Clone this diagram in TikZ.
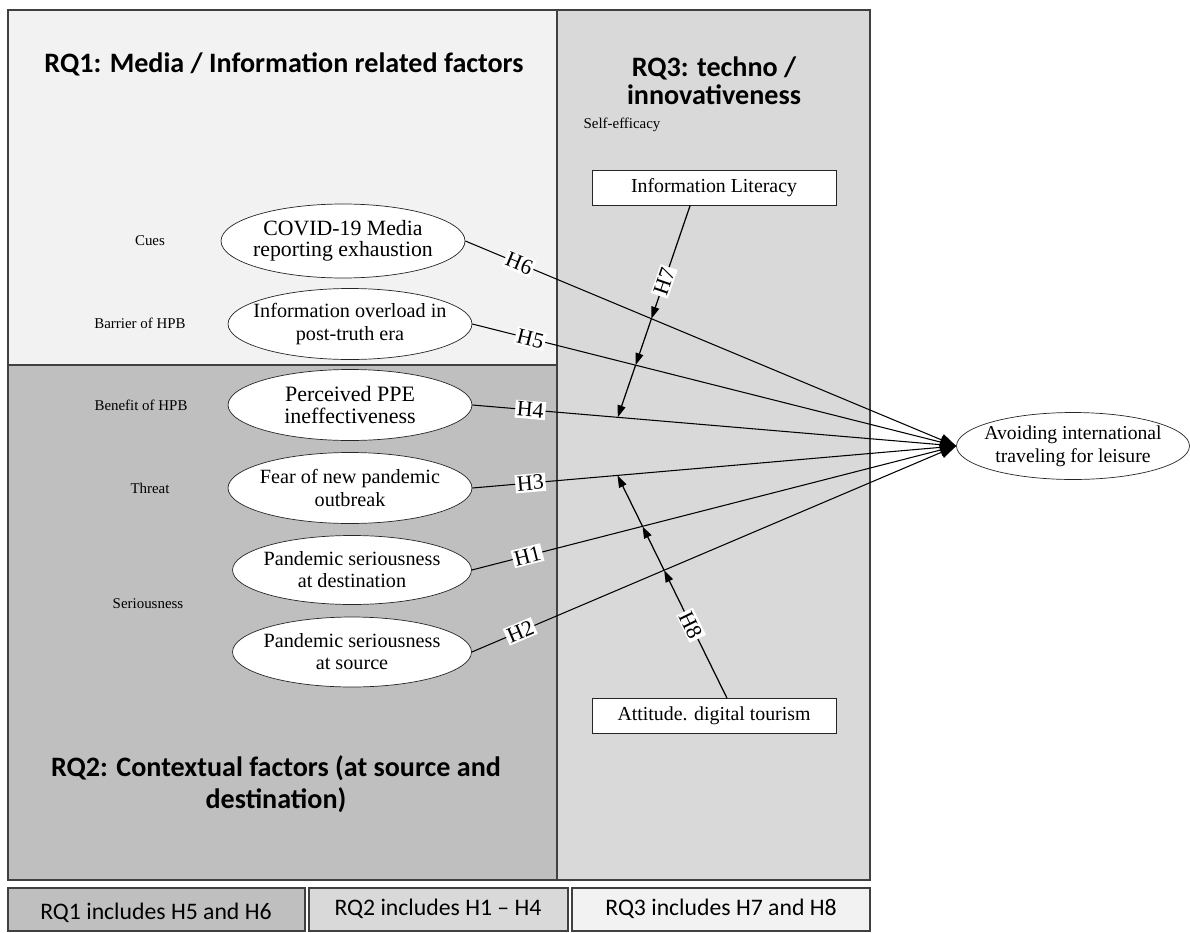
\documentclass[tikz,border=0pt]{standalone}
\usepackage{fontspec}
\setmainfont{Liberation Serif}
\newfontfamily\calfont{Carlito}
\definecolor{panelone}{HTML}{F2F2F2}
\definecolor{paneltwo}{HTML}{BFBFBF}
\definecolor{panelthree}{HTML}{D9D9D9}
\definecolor{frameline}{HTML}{404040}
\usetikzlibrary{arrows.meta,positioning,shapes.geometric,intersections}

\begin{document}
\begin{tikzpicture}[x=0.02cm, y=-0.02cm,
  panel/.style={draw=frameline, line width=0.9pt},
  factor/.style={ellipse, draw=black!85, fill=white, minimum width=4.88cm,
    minimum height=1.42cm, inner xsep=-0.3cm, inner ysep=0pt, align=center,
    font=\fontsize{11.5}{12.6}\selectfont},
  modbox/.style={rectangle, draw=black!85, fill=white, minimum width=4.88cm,
    minimum height=0.7cm, font=\fontsize{11.3}{13}\selectfont},
  construct/.style={font=\fontsize{8.5}{10}\selectfont},
  heading/.style={align=center, font=\calfont\bfseries\fontsize{16}{16}\selectfont},
  note/.style={font=\calfont\fontsize{13.5}{15}\selectfont},
  hyp/.style={-{Triangle[length=0.32cm,width=0.24cm]}, line width=0.6pt},
  mod/.style={-{Triangle[length=0.24cm,width=0.16cm]}, line width=0.7pt},
  hlab/.style={fill=white, inner sep=1pt, sloped, font=\fontsize{12.5}{13}\selectfont}
]
  \useasboundingbox (0,0) rectangle (1190,933);

  % panels
  \filldraw[panel, fill=panelone] (8,10) rectangle (557,365);
  \filldraw[panel, fill=paneltwo] (8,365) rectangle (557,880);
  \filldraw[panel, fill=panelthree] (557,10) rectangle (870,880);
  \filldraw[panel, fill=paneltwo] (8,888) rectangle (305,931);
  \filldraw[panel, fill=panelthree] (309,888) rectangle (568,931);
  \filldraw[panel, fill=panelone] (572,888) rectangle (870,931);

  % headings
  \node[heading] (rq1) at (284,64) {RQ1: Media / Information related factors};
  \node[heading] (rq3) at (714,81) {RQ3: techno /\\innovativeness};
  \node[heading, font=\calfont\bfseries\fontsize{16}{18.2}\selectfont] (rq2) at (276,784)
    {RQ2: Contextual factors (at source and\\destination)};
  \node[note] (n1) at (156,913) {RQ1 includes H5 and H6};
  \node[note] (n2) at (438,909) {RQ2 includes H1 – H4};
  \node[note] (n3) at (721,909) {RQ3 includes H7 and H8};

  % constructs
  \node[construct] (cues) at (150,241) {Cues};
  \node[construct] (barrier) at (140,323) {Barrier of HPB};
  \node[construct] (benefit) at (141,405) {Benefit of HPB};
  \node[construct] (threat) at (150,488) {Threat};
  \node[construct] (serious) at (148,604) {Seriousness};
  \node[construct] (selfeff) at (622,125) {Self-efficacy};

  % factors
  \node[factor, minimum height=1.48cm, font=\fontsize{12.4}{12.2}\selectfont] (media) at (343,241)
    {COVID-19 Media\\reporting exhaustion};
  \node[factor] (overload) at (350,324) {Information overload in\\post-truth era};
  \node[factor, font=\fontsize{12.5}{12.4}\selectfont] (ppe) at (350,405)
    {Perceived PPE\\ineffectiveness};
  \node[factor] (fear) at (350,488) {Fear of new pandemic\\outbreak};
  \node[factor, minimum width=4.78cm, minimum height=1.38cm] (dest) at (352,570)
    {Pandemic seriousness\\at destination};
  \node[factor, minimum width=4.78cm, minimum height=1.4cm] (src) at (352,652)
    {Pandemic seriousness\\at source};
  \node[factor, minimum width=4.66cm, minimum height=1.34cm,
    font=\fontsize{11.2}{13}\selectfont] (avoid) at (1073,446)
    {Avoiding international\\traveling for leisure};

  \node[modbox] (lit) at (714,188) {Information Literacy};
  \node[modbox] (att) at (714,716) {Attitude. digital tourism};

  % hypotheses
  \draw[hyp, name path=h6] (media.east) -- node[hlab, pos=0.11] {H6} (avoid.west);
  \draw[hyp, name path=h5] (overload.east) -- node[hlab, pos=0.12] {H5} (avoid.west);
  \draw[hyp, name path=h4] (ppe.east) -- node[hlab, pos=0.12] {H4} (avoid.west);
  \draw[hyp, name path=h3] (fear.east) -- node[hlab, pos=0.12] {H3} (avoid.west);
  \draw[hyp, name path=h1] (dest.east) -- node[hlab, pos=0.115] {H1} (avoid.west);
  \draw[hyp, name path=h2] (src.east) -- node[hlab, pos=0.1] {H2} (avoid.west);

  % moderators
  \path[name path=h7ray] ([xshift=-0.48cm]lit.south) -- (610,440);
  \path[name path=h8ray] ([xshift=0.26cm]att.north) -- (605,450);
  \path[name intersections={of=h7ray and h6, by=m76}];
  \path[name intersections={of=h7ray and h5, by=m75}];
  \path[name intersections={of=h7ray and h4, by=m74}];
  \path[name intersections={of=h8ray and h2, by=m82}];
  \path[name intersections={of=h8ray and h1, by=m81}];
  \path[name intersections={of=h8ray and h3, by=m83}];

  \draw[mod] ([xshift=-0.48cm]lit.south) -- node[hlab, pos=0.67] {H7} (m76);
  \draw[mod] (m76) -- (m75);
  \draw[mod] (m75) -- (m74);
  \draw[mod] ([xshift=0.26cm]att.north) -- node[hlab, pos=0.57] {H8} (m82);
  \draw[mod] (m82) -- (m81);
  \draw[mod] (m81) -- (m83);
\end{tikzpicture}
\end{document}
